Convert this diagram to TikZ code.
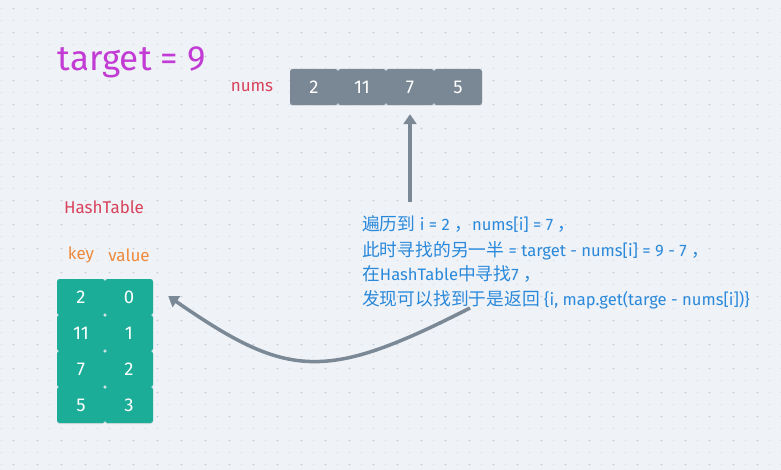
\documentclass[tikz,border=0pt]{standalone}
\usepackage{fontspec}
\setmainfont{Fira Sans}
\newfontfamily\cjk[Scale=1.07]{Noto Sans CJK SC}
\usetikzlibrary{shadows,arrows.meta}
\definecolor{bgc}{HTML}{EFF2F6}
\definecolor{dotl}{HTML}{DCE1E7}
\definecolor{dotd}{HTML}{C4CBD3}
\definecolor{tgtc}{HTML}{C13BD4}
\definecolor{redc}{HTML}{D8435C}
\definecolor{orgc}{HTML}{EE8A3C}
\definecolor{grayc}{HTML}{7A8795}
\definecolor{tealc}{HTML}{1BAD98}
\definecolor{bluec}{HTML}{2A89DB}
\definecolor{arrc}{HTML}{7B8896}
\begin{document}
\begin{tikzpicture}[x=1pt,y=-1pt,
  cellbox/.style={minimum width=48pt,minimum height=36pt,inner sep=0pt,rounded corners=2.5pt,text=white,font=\fontsize{18.5}{18.5}\selectfont,drop shadow={opacity=0.18,shadow xshift=0pt,shadow yshift=-1pt}},
  arrbox/.style={cellbox,fill=grayc},
  hashbox/.style={cellbox,fill=tealc},
  lbl/.style={font=\fontsize{17}{17}\selectfont},
  desc/.style={anchor=base west,text=bluec,font=\fontsize{16.6}{16.6}\selectfont,inner sep=0pt},
  arr/.style={draw=arrc,line width=3.5pt,-{Triangle[length=10pt,width=13pt]}}]
\useasboundingbox (0,0) rectangle (781,470);
\fill[bgc] (0,0) rectangle (781,470);
\foreach \i in {0,...,65}{\foreach \j in {0,...,38}{\fill[dotl] (1.5+12*\i,8.5+12*\j) circle[radius=0.9pt];}}
\foreach \i in {0,...,32}{\foreach \j in {0,...,19}{\fill[dotd] (13.5+24*\i,8.5+24*\j) circle[radius=0.9pt];}}
\node[text=tgtc,font=\fontsize{35}{35}\selectfont] (target) at (132,62) {target = 9};
\node[lbl,text=redc] (nums) at (252,87) {nums};
\node[arrbox] (n1) at (314,87) {2};
\node[arrbox] (n2) at (362,87) {11};
\node[arrbox] (n3) at (410,87) {7};
\node[arrbox] (n4) at (458,87) {5};
\node[lbl,text=redc] (ht) at (104,207) {HashTable};
\node[lbl,text=orgc] (key) at (81,255) {key};
\node[lbl,text=orgc] (val) at (129,255) {value};
\node[hashbox] (k1) at (81,297) {2};
\node[hashbox] (v1) at (129,297) {0};
\node[hashbox] (k2) at (81,333) {11};
\node[hashbox] (v2) at (129,333) {1};
\node[hashbox] (k3) at (81,369) {7};
\node[hashbox] (v3) at (129,369) {2};
\node[hashbox] (k4) at (81,405) {5};
\node[hashbox] (v4) at (129,405) {3};
\node[desc] (l1) at (362,231) {{\cjk 遍历到} i = 2 {\cjk ，}nums[i] = 7 {\cjk ，}};
\node[desc] (l2) at (362,256) {{\cjk 此时寻找的另一半} = target - nums[i] = 9 - 7 {\cjk ，}};
\node[desc] (l3) at (362,280) {{\cjk 在}HashTable{\cjk 中寻找}7 {\cjk ，}};
\node[desc] (l4) at (362,305) {{\cjk 发现可以找到于是返回} \{i, map.get(targe - nums[i])\}};
\coordinate (a1) at (410,202);
\coordinate (a2) at (470,308);
\coordinate (tip) at ([xshift=15pt,yshift=1pt]v1.east);
\draw[arr,shorten >=9pt] (a1) -- (n3.south);
\draw[arr] (a2) .. controls (325,382) and (288,379) .. (tip);
\end{tikzpicture}
\end{document}
